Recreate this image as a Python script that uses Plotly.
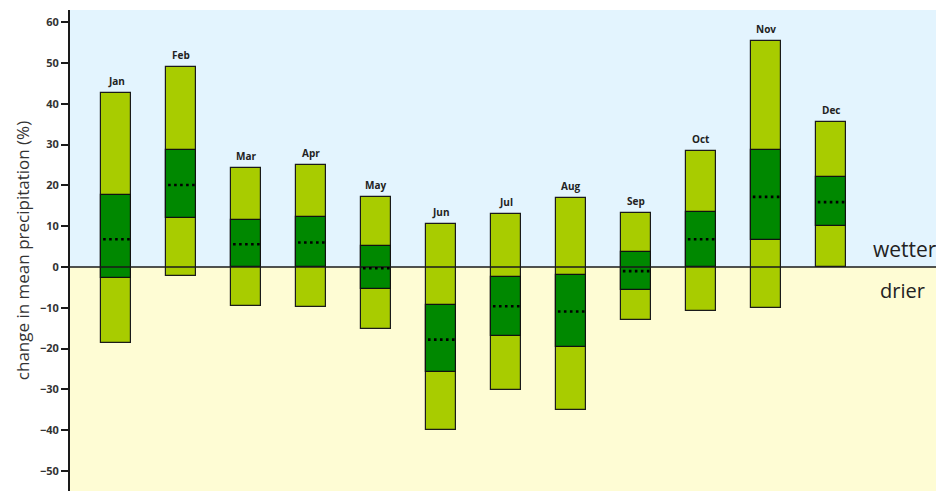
import plotly.graph_objects as go

# Monthly projected change in mean precipitation (%)
months = ["Jan", "Feb", "Mar", "Apr", "May", "Jun",
          "Jul", "Aug", "Sep", "Oct", "Nov", "Dec"]
range_low = [-18.5, -2.2, -9.6, -9.7, -15.3, -40.0, -30.1, -35.0, -13.1, -10.9, -10.1, 0.0]
range_high = [42.7, 49.1, 24.2, 24.9, 17.2, 10.5, 12.9, 17.0, 13.2, 28.5, 55.4, 35.5]
central_low = [-2.6, 11.9, 0.0, 0.0, -5.4, -25.8, -17.0, -19.6, -5.6, 0.0, 6.7, 10.1]
central_high = [17.7, 28.8, 11.5, 12.3, 5.2, -9.2, -2.5, -2.0, 3.8, 13.6, 28.6, 22.1]
median = [6.8, 20.1, 5.6, 6.0, -0.3, -17.8, -9.6, -10.9, -1.0, 6.8, 17.2, 15.9]
y_ticks = [-50, -40, -30, -20, -10, 0, 10, 20, 30, 40, 50, 60]

x = list(range(len(months)))
bar_w = 0.46
y_min, y_max = -54.9, 63.0

fig = go.Figure()

# full range bars
fig.add_trace(go.Bar(
    x=x, base=range_low,
    y=[h - l for h, l in zip(range_high, range_low)],
    width=bar_w, marker=dict(color="#a8cc00", line=dict(color="#1a1a1a", width=1.2)),
    hoverinfo="skip", showlegend=False))

# central range bars
fig.add_trace(go.Bar(
    x=x, base=central_low,
    y=[h - l for h, l in zip(central_high, central_low)],
    width=bar_w, marker=dict(color="#008800", line=dict(color="#111111", width=1.2)),
    hoverinfo="skip", showlegend=False))

# zero line across the plot
fig.add_trace(go.Scatter(
    x=[-0.72, 12.7], y=[0, 0], mode="lines",
    line=dict(color="#1a1a1a", width=1.5), hoverinfo="skip", showlegend=False))

# dotted median lines
for i, m in zip(x, median):
    fig.add_trace(go.Scatter(
        x=[i - bar_w / 2 + 0.03, i + bar_w / 2 - 0.02], y=[m, m], mode="lines",
        line=dict(color="#000000", width=2.6, dash="2.6px,3.4px"),
        hoverinfo="skip", showlegend=False))

# month labels above each bar
for i, (name, top) in enumerate(zip(months, range_high)):
    fig.add_annotation(x=i, y=top, text=f"<b>{name}</b>", showarrow=False,
                       yanchor="bottom", yshift=3,
                       font=dict(family="Open Sans", size=10, color="#222222"))

fig.add_annotation(x=1.0, xref="paper", xanchor="left", xshift=-65, y=4.3,
                   text="wetter", showarrow=False,
                   font=dict(family="Open Sans", size=21, color="#222222"))
fig.add_annotation(x=1.0, xref="paper", xanchor="left", xshift=-58, y=-5.8,
                   text="drier", showarrow=False,
                   font=dict(family="Open Sans", size=20, color="#222222"))

# wetter / drier background bands
fig.add_shape(type="rect", xref="paper", yref="y", x0=0, x1=1, y0=0, y1=y_max,
              fillcolor="#e3f4fe", line=dict(width=0), layer="below")
fig.add_shape(type="rect", xref="paper", yref="y", x0=0, x1=1, y0=y_min, y1=0,
              fillcolor="#fefcd4", line=dict(width=0), layer="below")

fig.update_layout(
    width=936, height=491,
    margin=dict(l=70, r=0, t=10, b=0),
    plot_bgcolor="white", paper_bgcolor="white",
    barmode="overlay", bargap=0,
    xaxis=dict(range=[-0.71, 12.62], showgrid=False, zeroline=False,
               showticklabels=False, ticks="", showline=False),
    yaxis=dict(range=[y_min, y_max], tickvals=y_ticks, showgrid=False,
               zeroline=False, showline=True, linecolor="#1a1a1a", linewidth=2,
               ticks="outside", ticklen=7, tickwidth=2, tickcolor="#1a1a1a",
               tickfont=dict(family="Open Sans", size=11, color="#333333", weight="bold"),
               title=dict(text="change in mean precipitation (%)", standoff=6,
                          font=dict(family="Open Sans", size=17, color="#333333"))),
)

fig.write_html("out.html")
